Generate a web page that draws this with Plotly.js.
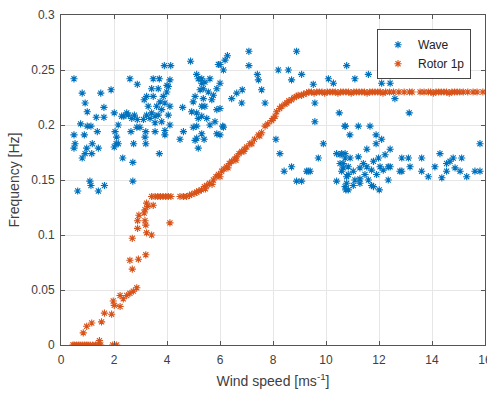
<!DOCTYPE html>
<html>
<head>
<meta charset="utf-8">
<script src="https://cdn.plot.ly/plotly-3.0.1.min.js"></script>
<style>html,body{margin:0;padding:0;background:#fff}#chart{width:487px;height:394px}</style>
</head>
<body>
<div id="chart"></div>
<script>
// Wave series (wind speed m/s, frequency Hz)
const waveX = [0.49,0.8,0.91,0.99,1.50,1.62,1.33,1.62,1.89,0.74,0.99,1.13,0.49,0.88,1.37,0.53,0.49,0.97,1.18,1.41,0.91,0.8,1.16,
  2.01,2.04,2.08,2.33,2.71,2.37,2.48,2.60,2.88,2.64,2.74,2.88,3.2,3.2,3.14,3.23,3.42,3.48,3.71,3.90,4.14,4.11,4.0,3.71,3.92,
  3.42,3.55,3.67,3.80,3.61,3.74,3.86,3.99,4.05,3.55,3.36,3.80,4.05,4.11,3.92,3.23,3.11,2.98,3.17,3.55,3.92,4.11,3.67,3.48,3.29,
  2.77,2.86,2.29,2.16,2.54,2.67,2.10,2.01,2.16,
  4.59,4.49,4.62,4.89,5.12,4.99,5.12,5.12,5.12,5.18,5.18,5.31,5.25,5.06,5.31,4.93,5.18,4.99,5.31,5.06,
  5.31,5.43,5.62,5.37,5.56,5.75,5.88,5.37,5.69,5.43,5.88,5.31,5.5,5.81,5.88,6.13,6.0,6.19,5.62,5.4,
  6.28,7.09,8.89,5.94,6.13,7.09,10.78,7.41,7.45,8.2,8.58,8.7,9.08,9.52,10.09,10.28,7.57,6.84,6.63,6.44,6.82,7.70,
  6.0,6.0,6.10,6.0,9.58,9.58,10.5,10.72,8.11,9.9,8.26,9.71,8.42,8.7,9.33,8.89,9.08,9.27,9.4,10.4,10.4,
  11.09,11.6,12.1,12.42,12.6,13.14,15.81,10.72,11.22,11.66,10.9,11.89,12.1,11.54,11.89,12.42,
  12.86,13.11,12.86,13.17,13.61,13.61,13.86,14.3,14.11,14.37,14.55,14.68,14.8,14.55,14.87,15.06,15.12,15.31,15.62,15.81,
  10.75,11.03,12.01,11.28,11.72,12.35,12.79,12.42,
  10.53,10.72,10.91,10.65,10.84,10.59,11.03,11.22,11.41,11.28,11.54,11.47,11.72,11.79,11.98,12.04,11.91,12.23,12.16,12.35,
  11.09,10.78,11.6,11.79,10.84,11.28,10.59,10.72,10.53,10.65,10.78,10.72,10.84,
  0.63,1.09,1.13,1.41,1.64,2.71];
const waveY = [0.242,0.229,0.220,0.212,0.229,0.216,0.207,0.207,0.232,0.201,0.199,0.199,0.191,0.191,0.194,0.183,0.179,0.179,0.183,0.179,0.174,0.170,0.174,
  0.211,0.194,0.183,0.170,0.166,0.208,0.211,0.242,0.237,0.194,0.183,0.205,0.194,0.183,0.223,0.226,0.233,0.242,0.242,0.254,0.254,0.241,0.236,0.174,0.191,
  0.211,0.208,0.209,0.214,0.217,0.221,0.226,0.230,0.235,0.202,0.206,0.203,0.209,0.217,0.220,0.209,0.205,0.198,0.189,0.194,0.195,0.200,0.233,0.226,0.217,
  0.209,0.198,0.208,0.200,0.209,0.206,0.189,0.180,0.183,
  0.216,0.187,0.194,0.258,0.246,0.221,0.211,0.199,0.188,0.179,0.242,0.238,0.232,0.226,0.217,0.212,0.206,0.198,0.192,0.186,
  0.242,0.239,0.242,0.233,0.230,0.227,0.233,0.224,0.223,0.217,0.214,0.208,0.206,0.203,0.192,0.198,0.255,0.259,0.200,0.187,
  0.263,0.267,0.267,0.255,0.250,0.254,0.254,0.246,0.241,0.250,0.250,0.241,0.246,0.237,0.242,0.238,0.232,0.232,0.229,0.224,0.220,0.220,
  0.238,0.215,0.199,0.191,0.220,0.203,0.211,0.199,0.187,0.183,0.174,0.170,0.158,0.162,0.158,0.149,0.149,0.158,0.158,0.174,0.149,
  0.242,0.246,0.238,0.238,0.224,0.211,0.183,0.199,0.199,0.199,0.191,0.191,0.187,0.178,0.183,0.178,
  0.170,0.170,0.158,0.162,0.170,0.158,0.153,0.174,0.162,0.152,0.165,0.167,0.170,0.158,0.161,0.158,0.170,0.153,0.158,0.158,
  0.141,0.145,0.141,0.151,0.145,0.150,0.158,0.162,
  0.173,0.174,0.170,0.165,0.162,0.158,0.158,0.171,0.165,0.161,0.162,0.155,0.159,0.167,0.170,0.162,0.155,0.173,0.159,0.162,
  0.150,0.147,0.150,0.144,0.155,0.147,0.174,0.170,0.165,0.161,0.153,0.144,0.141,
  0.140,0.149,0.145,0.140,0.145,0.149];

// Rotor 1p series
const rotorX = [0.45,0.5,0.58,0.65,0.72,0.8,0.88,0.95,1.02,1.1,1.2,1.3,1.42,1.45,1.5,1.95,2.1,
  0.84,0.97,1.16,1.53,1.64,1.91,2.01,1.97,2.23,2.23,2.35,2.48,2.6,2.73,2.86,2.69,2.6,2.92,3.2,
  2.69,2.89,2.89,3.17,2.94,3.14,3.23,3.42,3.2,3.17,3.27,3.23,3.48,
  3.42,3.55,3.65,3.75,3.85,3.95,4.05,4.15,4.11,4.49,4.62,4.74,4.85,4.93,5.05,5.12,5.2,5.3,5.41,
  5.5,5.6,5.75,5.85,5.94,6.06,6.15,6.25,6.35,6.44,6.55,6.63,6.72,6.82,6.92,7.01,7.13,7.3,7.45,7.57,7.70,
  5.45,5.7,6.0,6.3,6.6,6.9,7.2,7.5,
  7.8,7.95,8.01,8.08,8.14,8.25,8.33,8.45,8.52,8.6,8.7,8.8,8.89,8.95,9.08,9.15,9.27,
  9.35,9.45,9.55,9.65,9.75,9.85,9.95,10.05,10.15,10.25,10.35,10.45,10.55,10.65,10.75,10.85,10.95,11.05,11.15,11.25,11.35,
  11.45,11.55,11.65,11.75,11.85,11.95,12.05,12.15,12.25,12.4,12.55,12.75,12.95,13.15,13.25,
  13.55,13.7,13.86,13.95,14.05,14.15,14.25,14.35,14.45,14.55,14.65,14.75,14.85,14.95,15.05,15.18,15.35,15.55,15.7,15.92];
const rotorY = [0,0,0,0,0,0,0,0,0,0,0,0,0,0.004,0,0,0,
  0.011,0.017,0.020,0.021,0.029,0.028,0.036,0.040,0.035,0.045,0.042,0.045,0.047,0.049,0.052,0.069,0.077,0.078,0.082,
  0.097,0.106,0.113,0.113,0.118,0.120,0.102,0.100,0.109,0.123,0.126,0.129,0.127,
  0.135,0.135,0.135,0.135,0.135,0.135,0.135,0.135,0.111,0.135,0.135,0.135,0.136,0.137,0.138,0.139,0.140,0.141,0.144,
  0.145,0.147,0.150,0.153,0.155,0.158,0.160,0.162,0.165,0.167,0.169,0.171,0.174,0.176,0.178,0.180,0.183,0.187,0.191,0.193,0.199,
  0.142,0.146,0.153,0.161,0.168,0.176,0.183,0.190,
  0.201,0.204,0.206,0.208,0.212,0.215,0.217,0.219,0.220,0.222,0.223,0.225,0.226,0.227,0.227,0.228,0.229,
  0.23,0.23,0.229,0.23,0.23,0.23,0.229,0.23,0.23,0.23,0.23,0.229,0.23,0.23,0.23,0.23,0.229,0.23,0.23,0.23,0.23,
  0.23,0.229,0.23,0.23,0.23,0.23,0.23,0.229,0.23,0.23,0.23,0.23,0.23,0.23,0.23,
  0.23,0.23,0.23,0.23,0.229,0.23,0.23,0.23,0.23,0.23,0.229,0.23,0.23,0.23,0.23,0.23,0.23,0.23,0.23,0.23];

const seriesNames = ['Wave', 'Rotor 1p'];

const FONT = 'Liberation Sans, Arial, sans-serif';
const mk = (c) => ({symbol: 'asterisk-open', size: 6, color: c, line: {color: c, width: 1.1}});
const traces = [
  {x: waveX, y: waveY, type: 'scatter', mode: 'markers', name: seriesNames[0], marker: mk('#0072BD')},
  {x: rotorX, y: rotorY, type: 'scatter', mode: 'markers', name: seriesNames[1], marker: mk('#D95319')}
];

const ax = {
  showline: true, mirror: 'ticks', linecolor: '#555', linewidth: 1,
  ticks: 'inside', ticklen: 4, tickcolor: '#555',
  showgrid: true, gridcolor: '#e6e6e6', zeroline: false,
  ticklabeloverflow: 'allow',
  tickfont: {family: FONT, size: 12, color: '#404040'}
};

const layout = {
  width: 487, height: 394,
  margin: {l: 61, r: 2, t: 15, b: 49},
  paper_bgcolor: '#fff', plot_bgcolor: '#fff',
  showlegend: true,
  xaxis: Object.assign({}, ax, {range: [0, 16], dtick: 2, tick0: 0, ticklabelstandoff: 4,
    title: {text: 'Wind speed [ms<sup>-1</sup>]', standoff: 9, font: {family: FONT, size: 14, color: '#404040'}}}),
  yaxis: Object.assign({}, ax, {range: [0, 0.3], dtick: 0.05, tick0: 0, ticklabelstandoff: 3,
    title: {text: 'Frequency [Hz]', standoff: 8, font: {family: FONT, size: 14, color: '#404040'}}}),
  legend: {x: 0.967, xanchor: 'right', y: 0.957, yanchor: 'top',
    bgcolor: '#fff', bordercolor: '#444', borderwidth: 1,
    font: {family: FONT, size: 12, color: '#222'},
    tracegroupgap: 0, itemwidth: 30}
};

Plotly.newPlot('chart', traces, layout, {displayModeBar: false, staticPlot: true});
</script>
</body>
</html>
